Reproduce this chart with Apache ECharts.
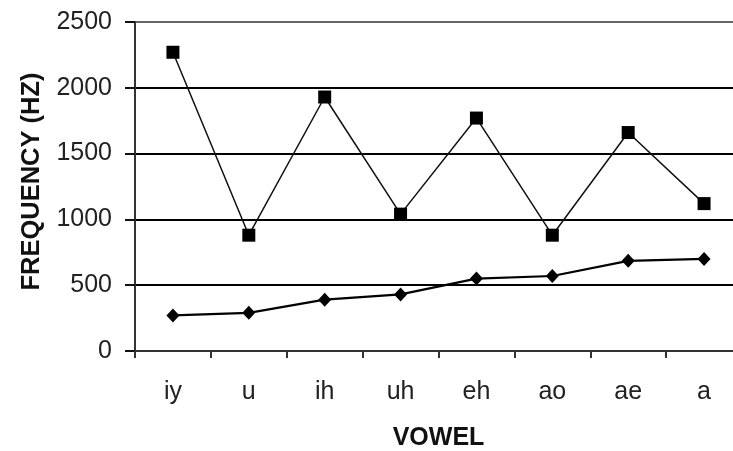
<!DOCTYPE html>
<html>
<head>
<meta charset="utf-8">
<script src="https://cdn.jsdelivr.net/npm/echarts@6/dist/echarts.min.js"></script>
<style>
html,body{margin:0;padding:0;background:#fff;}
#chart{width:733px;height:451px;}
</style>
</head>
<body>
<div id="chart"></div>
<script>
const vowels = ['iy', 'u', 'ih', 'uh', 'eh', 'ao', 'ae', 'a'];
const formant2 = [2270, 880, 1930, 1040, 1770, 880, 1660, 1120];
const formant1 = [270, 290, 390, 430, 550, 570, 685, 700];
const yTicks = [0, 500, 1000, 1500, 2000, 2500];

const chart = echarts.init(document.getElementById('chart'), null, {renderer: 'canvas'});
const font = '"Liberation Sans", Arial, sans-serif';
chart.setOption({
  animation: false,
  backgroundColor: '#fff',
  grid: {left: 135, right: -9, top: 22, bottom: 100, containLabel: false, outerBoundsMode: 'none'},
  xAxis: {
    type: 'category',
    data: vowels,
    boundaryGap: true,
    name: 'VOWEL',
    nameLocation: 'middle',
    nameGap: 75,
    nameTextStyle: {fontFamily: font, fontSize: 25, fontWeight: 'bold', color: '#111'},
    axisLine: {lineStyle: {color: '#333', width: 2}},
    axisTick: {show: true, length: 7, inside: false, lineStyle: {color: '#333', width: 2}},
    axisLabel: {fontFamily: font, fontSize: 25, color: '#222', margin: 29},
    splitLine: {show: false}
  },
  yAxis: {
    type: 'value',
    min: yTicks[0],
    max: yTicks[yTicks.length - 1],
    interval: 500,
    name: 'FREQUENCY (HZ)',
    nameLocation: 'middle',
    nameGap: 90,
    nameTextStyle: {fontFamily: font, fontSize: 25.5, fontWeight: 'bold', color: '#111', padding: [0, 0, 0, 10]},
    axisLine: {show: true, lineStyle: {color: '#333', width: 2}},
    axisTick: {show: true, length: 10, inside: false, lineStyle: {color: '#111', width: 2}},
    axisLabel: {fontFamily: font, fontSize: 25, color: '#222', margin: 23, formatter: v => String(v)},
    splitLine: {show: true, lineStyle: {color: ['#000', '#000', '#000', '#000', '#000', '#666'], width: 2}}
  },
  series: [
    {
      type: 'line',
      data: formant2,
      symbol: 'rect',
      symbolSize: 13,
      itemStyle: {color: '#000'},
      lineStyle: {color: '#111', width: 1.5},
      z: 3
    },
    {
      type: 'line',
      data: formant1,
      symbol: 'diamond',
      symbolSize: [13, 14],
      itemStyle: {color: '#000'},
      lineStyle: {color: '#000', width: 2.2},
      z: 3
    }
  ]
});
</script>
</body>
</html>
